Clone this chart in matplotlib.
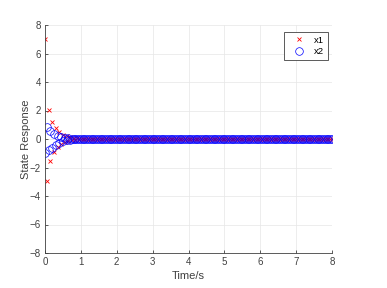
import matplotlib
matplotlib.use('Agg')
import matplotlib.pyplot as plt
import numpy as np

plt.rcParams['font.family'] = ['Liberation Sans', 'DejaVu Sans']

# sample times (step 0.05 s over 0..8 s)
t = np.linspace(0, 8, 161)

# early samples; the rest sit at zero
x1_head = [7.0, -2.93, 2.03, -1.52, 1.17, -0.89, 0.75, -0.54, 0.47, -0.35,
           0.3, -0.21, 0.18, -0.13, 0.11, -0.08, 0.07, -0.05, 0.04, -0.03, 0.02]
x2_head = [-1.0, 0.85, -0.8, 0.55, -0.6, 0.35, -0.42, 0.22, -0.27, 0.13,
           -0.17, 0.08, -0.1, 0.05, -0.06, 0.03, -0.03, 0.02, -0.01]
x1 = x1_head + [0.0] * (len(t) - len(x1_head))
x2 = x2_head + [0.0] * (len(t) - len(x2_head))

fig = plt.figure(figsize=(3.87, 2.88), dpi=100)
ax = fig.add_axes([45 / 387, 35 / 288, 287 / 387, 228 / 288])

ax.plot(t, x1, linestyle='none', marker='x', color='r', markersize=3.5,
        markeredgewidth=0.6, label='x1')
ax.plot(t, x2, linestyle='none', marker='o', color='b', markersize=5.5,
        markerfacecolor='none', markeredgewidth=0.5, label='x2')

ax.set_xlim(0, 8)
ax.set_ylim(-8, 8)
ax.set_xticks(range(0, 9))
ax.set_yticks(range(-8, 9, 2))
ax.grid(True, color='#e6e6e6', linewidth=0.5)
ax.set_axisbelow(True)
for s in ['top', 'right']:
    ax.spines[s].set_visible(False)
for s in ['left', 'bottom']:
    ax.spines[s].set_color('#404040')
    ax.spines[s].set_linewidth(0.6)
ax.tick_params(direction='in', length=2.5, width=0.6, colors='#404040',
               labelsize=7, pad=3)

ax.set_xlabel('Time/s', fontsize=8, color='#404040')
ax.set_ylabel('State Response', fontsize=8, color='#404040')
ax.xaxis.set_label_coords(0.5, -0.078)
ax.yaxis.set_label_coords(-0.05, 0.5)

leg = ax.legend(loc='upper right', bbox_to_anchor=(328 / 387, 256 / 288),
                bbox_transform=fig.transFigure, borderaxespad=0,
                fontsize=6.8, handlelength=2.5, handletextpad=0.3,
                borderpad=0.4, labelspacing=0.25,
                fancybox=False, framealpha=1)
leg.get_frame().set_edgecolor('#404040')
leg.get_frame().set_linewidth(0.6)

fig.savefig('out.png', dpi=100)
